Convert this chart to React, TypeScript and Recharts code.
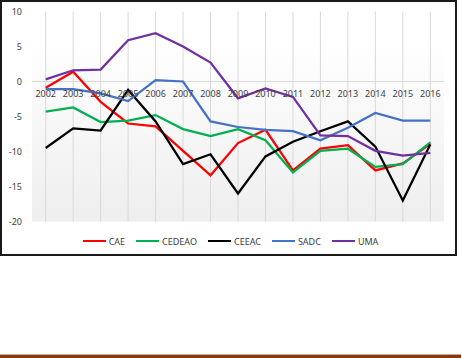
import React from 'react';
import { LineChart, Line, XAxis, YAxis, CartesianGrid, ReferenceLine, Legend } from 'recharts';

const years = ['2002', '2003', '2004', '2005', '2006', '2007', '2008', '2009', '2010', '2011', '2012', '2013', '2014', '2015', '2016'];
const cae = [-0.9, 1.4, -2.9, -6.0, -6.4, -9.9, -13.4, -8.8, -6.9, -12.7, -9.6, -9.1, -12.7, -11.7, -8.9];
const cedeao = [-4.3, -3.7, -5.8, -5.6, -4.8, -6.8, -7.8, -6.8, -8.4, -13.0, -9.9, -9.6, -12.2, -11.8, -8.7];
const ceeac = [-9.5, -6.7, -7.0, -1.2, -5.7, -11.8, -10.4, -16.0, -10.7, -8.6, -7.1, -5.7, -9.3, -17.0, -9.0];
const sadc = [-1.1, -1.1, -1.7, -2.8, 0.2, 0.0, -5.7, -6.5, -6.9, -7.1, -8.4, -6.6, -4.5, -5.6, -5.6];
const uma = [0.3, 1.6, 1.7, 5.9, 6.9, 5.0, 2.7, -2.4, -1.0, -2.2, -7.7, -7.8, -9.9, -10.6, -10.2];
const yTicks = [-20, -15, -10, -5, 0, 5, 10];

const seriesNames = ['CAE', 'CEDEAO', 'CEEAC', 'SADC', 'UMA'];
const seriesColors = ['#FF0000', '#00B050', '#000000', '#4472C4', '#7030A0'];
const seriesValues = [cae, cedeao, ceeac, sadc, uma];

const data = years.map((y, i) => {
  const row: Record<string, string | number> = { year: y };
  seriesNames.forEach((n, k) => {
    row[n] = seriesValues[k][i];
  });
  return row;
});

const W = 457;
const H = 256;
const X_AXIS_H = 20;
const M = { top: 11.5, right: 13, bottom: 34.5 - X_AXIS_H, left: 0 };
const Y_MIN = -20;
const Y_MAX = 10;
const FONT = '"Noto Sans", sans-serif';
const TEXT = '#404040';

const plotH = H - M.top - M.bottom - X_AXIS_H;
const zeroY = M.top + (plotH * (Y_MAX - 0)) / (Y_MAX - Y_MIN);

const XTick = (props: any) => {
  const { x, payload } = props;
  return (
    <text x={x} y={zeroY + 15.5} textAnchor="middle" fontSize={9} fontFamily={FONT} fill={TEXT}>
      {payload.value}
    </text>
  );
};

const LegendContent = () => (
  <div style={{ display: 'flex', justifyContent: 'center', alignItems: 'center', fontFamily: FONT, fontSize: 9, color: TEXT, height: 14, paddingLeft: 4 }}>
    {seriesNames.map((n, k) => (
      <div key={n} style={{ display: 'flex', alignItems: 'center', marginRight: k < seriesNames.length - 1 ? 11 : 0 }}>
        <div style={{ width: 23, height: 2, background: seriesColors[k], marginRight: 3 }} />
        <span>{n}</span>
      </div>
    ))}
  </div>
);

export default function App() {
  return (
    <div style={{ position: 'absolute', left: 0, top: 0, width: 462, height: 358, background: '#fff' }}>
      <div style={{ position: 'absolute', left: 0, top: 0, width: W, height: H }}>
        <LineChart width={W} height={H} data={data} margin={M}>
          <defs>
            <linearGradient id="plotBg" x1="0" y1="0" x2="0" y2="1">
              <stop offset="0%" stopColor="#FFFFFF" />
              <stop offset="15%" stopColor="#FFFFFF" />
              <stop offset="100%" stopColor="#EEEEEE" />
            </linearGradient>
          </defs>
          <CartesianGrid horizontal={false} syncWithTicks stroke="#D9D9D9" fill="url(#plotBg)" />
          <XAxis
            dataKey="year"
            padding={{ left: 13.7, right: 13.7 }}
            axisLine={false}
            tickLine={false}
            tick={<XTick />}
            interval={0}
            height={X_AXIS_H}
          />
          <YAxis
            domain={[Y_MIN, Y_MAX]}
            ticks={yTicks}
            width={32}
            axisLine={false}
            tickLine={false}
            tickSize={0}
            tickMargin={10}
            tick={{ fontSize: 9, fontFamily: FONT, fill: TEXT }}
            allowDataOverflow
          />
          <ReferenceLine y={0} stroke="#D9D9D9" strokeWidth={1} />
          {seriesNames.map((n, k) => (
            <Line
              key={n}
              type="linear"
              dataKey={n}
              stroke={seriesColors[k]}
              strokeWidth={2.25}
              dot={false}
              activeDot={false}
              isAnimationActive={false}
            />
          ))}
          <Legend verticalAlign="middle" align="center" layout="horizontal" content={<LegendContent />} wrapperStyle={{ top: 234, left: 0, width: W }} />
        </LineChart>
        <div style={{ position: 'absolute', left: 0, top: 0, width: W, height: H, border: '2px solid #1a1a1a', boxSizing: 'border-box', pointerEvents: 'none' }} />
      </div>
      <div style={{ position: 'absolute', left: 0, top: 354, width: 461, height: 1, background: '#C9A58C' }} />
      <div style={{ position: 'absolute', left: 0, top: 355, width: 461, height: 3, background: '#843C0C' }} />
    </div>
  );
}
